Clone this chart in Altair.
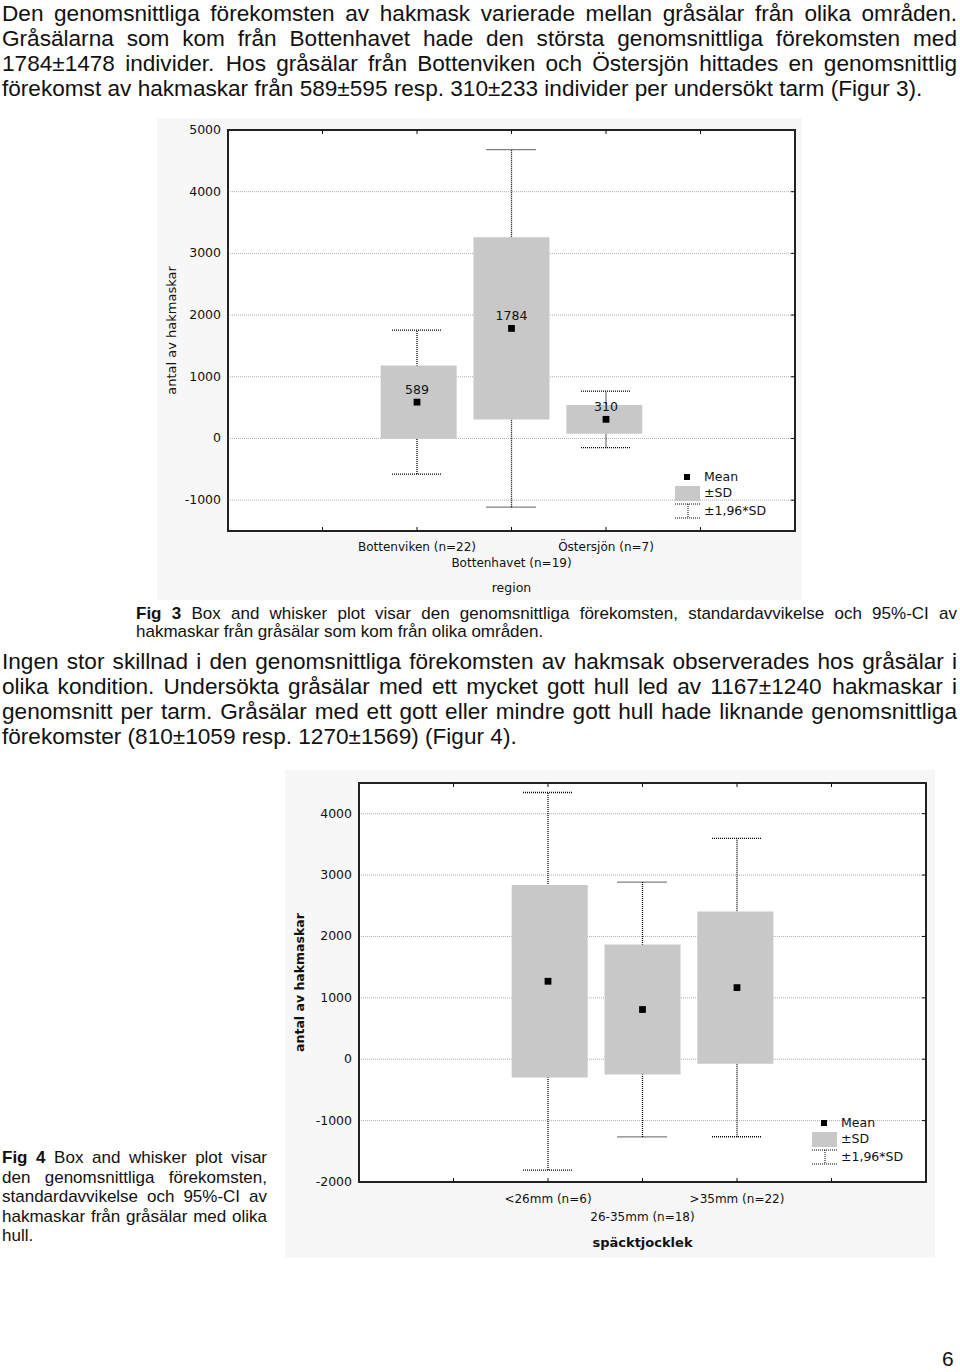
import altair as alt
import pandas as pd

# ---------------- text content ----------------
para1 = [
    "Den genomsnittliga förekomsten av hakmask varierade mellan gråsälar från olika områden.",
    "Gråsälarna som kom från Bottenhavet hade den största genomsnittliga förekomsten med",
    "1784±1478 individer. Hos gråsälar från Bottenviken och Östersjön hittades en genomsnittlig",
    "förekomst av hakmaskar från 589±595 resp. 310±233 individer per undersökt tarm (Figur 3).",
]
para2 = [
    "Ingen stor skillnad i den genomsnittliga förekomsten av hakmsak observerades hos gråsälar i",
    "olika kondition. Undersökta gråsälar med ett mycket gott hull led av 1167±1240 hakmaskar i",
    "genomsnitt per tarm. Gråsälar med ett gott eller mindre gott hull hade liknande genomsnittliga",
    "förekomster (810±1059 resp. 1270±1569) (Figur 4).",
]
cap3 = [
    "Fig 3 Box and whisker plot visar den genomsnittliga förekomsten, standardavvikelse och 95%-CI av",
    "hakmaskar från gråsälar som kom från olika områden.",
]
cap4 = [
    "Fig 4 Box and whisker plot visar",
    "den genomsnittliga förekomsten,",
    "standardavvikelse och 95%-CI av",
    "hakmaskar från gråsälar med olika",
    "hull.",
]
page_no = "6"

# ---------------- Fig 3 data ----------------
regions = ["Bottenviken (n=22)", "Bottenhavet (n=19)", "Östersjön (n=7)"]
reg_slot = [2, 3, 4]
reg_row = [0, 1, 0]
reg_mean = [589, 1784, 310]
reg_sd_lo = [-6, 306, 77]
reg_sd_hi = [1184, 3262, 543]
reg_ci_lo = [-577, -1113, -147]
reg_ci_hi = [1755, 4681, 767]
reg_mean_labels = ["589", "1784", "310"]
fig3_ydomain = [-1500, 5000]
fig3_yticks = [5000, 4000, 3000, 2000, 1000, 0, -1000]
fig3_grid = [4000, 3000, 2000, 1000, 0, -1000]

# ---------------- Fig 4 data ----------------
groups = ["<26mm (n=6)", "26-35mm (n=18)", ">35mm (n=22)"]
grp_slot = [2, 3, 4]
grp_row = [0, 1, 0]
grp_mean = [1270, 810, 1167]
grp_sd_lo = [-299, -249, -73]
grp_sd_hi = [2839, 1869, 2407]
grp_ci_lo = [-1805, -1266, -1263]
grp_ci_hi = [4345, 2886, 3597]
fig4_ydomain = [-2000, 4500]
fig4_yticks = [4000, 3000, 2000, 1000, 0, -1000, -2000]
fig4_grid = [4000, 3000, 2000, 1000, 0, -1000]

slot_ticks = [1, 2, 3, 4, 5]
legend_items = ["Mean", "±SD", "±1,96*SD"]

# ---------------- text layout helpers (Arial metrics) ----------------
ARIAL = {" ": 278, ".": 278, ",": 278, "(": 333, ")": 333, "-": 333, "%": 889,
         "*": 389, "±": 549, "Ö": 778, "Å": 667, "Ä": 667, "å": 556, "ä": 556, "ö": 556}
ARIAL.update({d: 556 for d in "0123456789"})
ARIAL.update(dict(zip("abcdefghijklmnopqrstuvwxyz",
                      [556, 556, 500, 556, 556, 278, 556, 556, 222, 222, 500, 222, 833,
                       556, 556, 556, 556, 333, 500, 278, 556, 500, 722, 500, 500, 500])))
ARIAL.update(dict(zip("ABCDEFGHIJKLMNOPQRSTUVWXYZ",
                      [667, 667, 722, 722, 667, 611, 778, 722, 278, 500, 667, 556, 833,
                       722, 778, 667, 778, 722, 667, 611, 722, 667, 944, 667, 667, 611])))
ARIAL_BOLD = dict(ARIAL)
ARIAL_BOLD.update({"i": 278, "g": 611, "F": 611})


def text_width(s, size, bold=False):
    tbl = ARIAL_BOLD if bold else ARIAL
    return sum(tbl.get(c, 556) for c in s) * size / 1000.0


def layout(lines, left, right, baselines, size, bold_first=0):
    rows = []
    for i, (line, yb) in enumerate(zip(lines, baselines)):
        words = line.split(" ")
        bolds = [(i == 0 and j < bold_first) for j in range(len(words))]
        widths = [text_width(w, size, b) for w, b in zip(words, bolds)]
        if i == len(lines) - 1 or len(words) == 1:
            gap = text_width(" ", size)
        else:
            gap = (right - left - sum(widths)) / (len(words) - 1)
        x = left
        for w, wd, b in zip(words, widths, bolds):
            rows.append(dict(x=x, y=yb, t=w, s=size, b=b))
            x += wd + gap
    return rows


BODY = 22.6
CAP = 17
rows = []
rows += layout(para1, 2, 957, [20.5, 45.5, 70.5, 95.5], BODY)
rows += layout(para2, 2, 957, [669, 694, 719, 744], BODY)
rows += layout(cap3, 136, 957, [618.5, 637], CAP, bold_first=2)
rows += layout(cap4, 2, 267, [1163, 1182.5, 1202, 1221.5, 1241], CAP, bold_first=2)
rows.append(dict(x=942, y=1366, t=page_no, s=21, b=False))
words = pd.DataFrame(rows)


def text_layer(df):
    layers = []
    for bold in (False, True):
        sub = df[df.b == bold]
        if len(sub) == 0:
            continue
        layers.append(alt.Chart(sub).mark_text(
            align="left", baseline="alphabetic", font="Liberation Sans",
            fontWeight="bold" if bold else "normal", color="#111").encode(
            x=alt.X("x:Q", scale=None), y=alt.Y("y:Q", scale=None),
            text="t:N", size=alt.Size("s:Q", scale=None)))
    return layers


PF = "DejaVu Sans"


def boxplot(cats, slots, rowsidx, mean, sd_lo, sd_hi, ci_lo, ci_hi, mean_labels,
            ydom, yticks, grid, frame, bg, label_rows_y, xtitle, xtitle_y, xtitle_bold,
            xtitle_size, ytitle_x, ytitle_bold, ytitle_size, legend_xy):
    left, right, top, bottom = frame
    xs = alt.Scale(domain=[0, 6], range=[left, right], nice=False, zero=False)
    ys = alt.Scale(domain=ydom, range=[bottom, top], nice=False, zero=False)
    df = pd.DataFrame(dict(cat=cats, slot=slots, row=rowsidx, mean=mean, sd_lo=sd_lo,
                           sd_hi=sd_hi, ci_lo=ci_lo, ci_hi=ci_hi,
                           lab=mean_labels if mean_labels else [""] * len(cats)))
    df["ly"] = [label_rows_y[r] for r in df.row]
    L = []
    # scanned-image background
    L.append(alt.Chart(pd.DataFrame([dict(a=bg[0], b=bg[1], c=bg[2], d=bg[3])]))
             .mark_rect(color="#f7f7f7").encode(
        x=alt.X("a:Q", scale=None), x2="b:Q", y=alt.Y("c:Q", scale=None), y2="d:Q"))
    fr = pd.DataFrame([dict(x0=0, x1=6, y0=ydom[0], y1=ydom[1])])
    L.append(alt.Chart(fr).mark_rect(color="white").encode(
        x=alt.X("x0:Q", scale=xs, axis=None), x2="x1:Q",
        y=alt.Y("y0:Q", scale=ys, axis=None), y2="y1:Q"))
    gdf = pd.DataFrame(dict(v=grid, x0=0, x1=6))
    L.append(alt.Chart(gdf).mark_rule(color="#adadad", strokeDash=[1, 1], strokeWidth=1).encode(
        x=alt.X("x0:Q", scale=xs, axis=None), x2="x1:Q", y=alt.Y("v:Q", scale=ys, axis=None)))
    # whiskers
    L.append(alt.Chart(df).mark_rule(color="#000", strokeDash=[1, 1], strokeWidth=1.3).encode(
        x=alt.X("slot:Q", scale=xs, axis=None), y=alt.Y("ci_lo:Q", scale=ys, axis=None), y2="ci_hi:Q"))
    for f in ("ci_lo", "ci_hi"):
        L.append(alt.Chart(df).mark_rule(color="#000", strokeDash=[1, 1], strokeWidth=1.3,
                                         xOffset=-25, x2Offset=25).encode(
            x=alt.X("slot:Q", scale=xs, axis=None), x2="slot:Q",
            y=alt.Y(f + ":Q", scale=ys, axis=None)))
    # boxes
    L.append(alt.Chart(df).mark_bar(color="#c8c8c8", size=76, opacity=1).encode(
        x=alt.X("slot:Q", scale=xs, axis=None), y=alt.Y("sd_lo:Q", scale=ys, axis=None), y2="sd_hi:Q"))
    # means
    L.append(alt.Chart(df).mark_square(color="#000", size=46, opacity=1).encode(
        x=alt.X("slot:Q", scale=xs, axis=None), y=alt.Y("mean:Q", scale=ys, axis=None)))
    if mean_labels:
        L.append(alt.Chart(df).mark_text(font=PF, fontSize=12.5, color="#111", dy=-12,
                                         baseline="middle").encode(
            x=alt.X("slot:Q", scale=xs, axis=None), y=alt.Y("mean:Q", scale=ys, axis=None),
            text="lab:N"))
    # frame
    L.append(alt.Chart(fr).mark_rect(fillOpacity=0, stroke="#222", strokeWidth=2).encode(
        x=alt.X("x0:Q", scale=xs, axis=None), x2="x1:Q",
        y=alt.Y("y0:Q", scale=ys, axis=None), y2="y1:Q"))
    # ticks: right side at gridlines, top/bottom at slots
    L.append(alt.Chart(pd.DataFrame(dict(v=grid, x0=6))).mark_rule(color="#111", x2Offset=-4).encode(
        x=alt.X("x0:Q", scale=xs, axis=None), x2="x0:Q", y=alt.Y("v:Q", scale=ys, axis=None)))
    tdf = pd.DataFrame(dict(s=slot_ticks, yt=ydom[1], yb=ydom[0]))
    L.append(alt.Chart(tdf).mark_rule(color="#111", y2Offset=4).encode(
        x=alt.X("s:Q", scale=xs, axis=None), y=alt.Y("yt:Q", scale=ys, axis=None), y2="yt:Q"))
    L.append(alt.Chart(tdf).mark_rule(color="#111", y2Offset=-4).encode(
        x=alt.X("s:Q", scale=xs, axis=None), y=alt.Y("yb:Q", scale=ys, axis=None), y2="yb:Q"))
    # y tick labels (hyphen minus, as in the original)
    tl = pd.DataFrame(dict(v=yticks, x0=0, lab=[str(v) for v in yticks]))
    L.append(alt.Chart(tl).mark_text(
        font=PF, fontSize=12.5, color="#111", align="right", baseline="middle", dx=-7).encode(
        x=alt.X("x0:Q", scale=xs, axis=None), y=alt.Y("v:Q", scale=ys, axis=None),
        text="lab:N"))
    # category labels (staggered)
    L.append(alt.Chart(df).mark_text(font=PF, fontSize=12, color="#111", baseline="middle").encode(
        x=alt.X("slot:Q", scale=xs, axis=None), y=alt.Y("ly:Q", scale=None), text="cat:N"))
    # axis titles
    L.append(alt.Chart(pd.DataFrame([dict(t=xtitle)])).mark_text(
        font=PF, fontSize=xtitle_size, fontWeight="bold" if xtitle_bold else "normal",
        color="#111", baseline="middle").encode(
        x=alt.value((left + right) / 2), y=alt.value(xtitle_y), text="t:N"))
    L.append(alt.Chart(pd.DataFrame([dict(t="antal av hakmaskar")])).mark_text(
        font=PF, fontSize=ytitle_size, fontWeight="bold" if ytitle_bold else "normal",
        color="#111", baseline="middle", angle=270).encode(
        x=alt.value(ytitle_x), y=alt.value((top + bottom) / 2), text="t:N"))
    # legend
    lx, ly = legend_xy  # left edge of the grey swatch, centre of the "Mean" row
    L.append(alt.Chart(pd.DataFrame([dict(x=lx + 12, y=ly)])).mark_square(
        color="#000", size=36, opacity=1).encode(
        x=alt.X("x:Q", scale=None), y=alt.Y("y:Q", scale=None)))
    L.append(alt.Chart(pd.DataFrame([dict(a=lx, b=lx + 25, c=ly + 9, d=ly + 24)])).mark_rect(
        color="#c8c8c8").encode(
        x=alt.X("a:Q", scale=None), x2="b:Q", y=alt.Y("c:Q", scale=None), y2="d:Q"))
    wl = pd.DataFrame([dict(a=lx, b=lx + 25, c=ly + 27, d=ly + 27),
                       dict(a=lx, b=lx + 25, c=ly + 41, d=ly + 41),
                       dict(a=lx + 13, b=lx + 13, c=ly + 27, d=ly + 41)])
    L.append(alt.Chart(wl).mark_rule(color="#000", strokeDash=[1, 1]).encode(
        x=alt.X("a:Q", scale=None), x2="b:Q", y=alt.Y("c:Q", scale=None), y2="d:Q"))
    lt = pd.DataFrame(dict(t=legend_items, x=lx + 29, y=[ly, ly + 16, ly + 34]))
    L.append(alt.Chart(lt).mark_text(font=PF, fontSize=12.5, color="#111", align="left",
                                     baseline="middle").encode(
        x=alt.X("x:Q", scale=None), y=alt.Y("y:Q", scale=None), text="t:N"))
    return L


fig3 = boxplot(regions, reg_slot, reg_row, reg_mean, reg_sd_lo, reg_sd_hi, reg_ci_lo, reg_ci_hi,
               reg_mean_labels, fig3_ydomain, fig3_yticks, fig3_grid,
               frame=(228, 795, 130, 531), bg=(157, 802, 118, 600),
               label_rows_y=[547, 563], xtitle="region", xtitle_y=588, xtitle_bold=False,
               xtitle_size=12.5, ytitle_x=172, ytitle_bold=False, ytitle_size=13,
               legend_xy=(675, 477))
fig4 = boxplot(groups, grp_slot, grp_row, grp_mean, grp_sd_lo, grp_sd_hi, grp_ci_lo, grp_ci_hi,
               None, fig4_ydomain, fig4_yticks, fig4_grid,
               frame=(359, 926, 783, 1182), bg=(285, 935, 770, 1258),
               label_rows_y=[1199, 1217], xtitle="späcktjocklek", xtitle_y=1243, xtitle_bold=True,
               xtitle_size=13, ytitle_x=300, ytitle_bold=True, ytitle_size=12.5,
               legend_xy=(812, 1123))

chart = alt.layer(*(fig3 + fig4 + text_layer(words))).resolve_scale(
    x="independent", y="independent", size="independent").properties(
    width=960, height=1372, autosize=alt.AutoSizeParams(type="none"), padding=0,
    background="white").configure_view(strokeWidth=0)

chart.save("out.html", embed_options={"renderer": "svg", "actions": False})
